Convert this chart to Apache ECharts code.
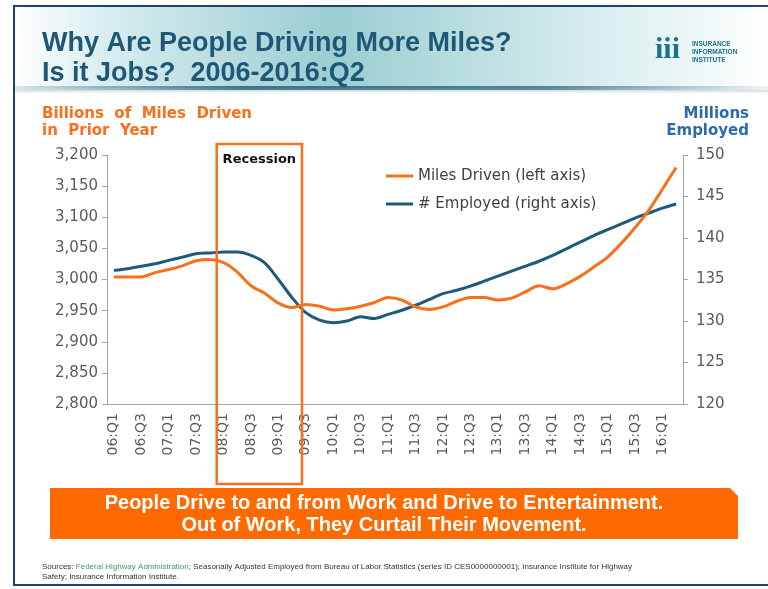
<!DOCTYPE html>
<html><head><meta charset="utf-8">
<script src="https://cdn.jsdelivr.net/npm/echarts@6/dist/echarts.min.js"></script>
<style>html,body{margin:0;padding:0;background:#fff}#c{width:768px;height:589px}</style>
</head><body><div id="c"></div>
<script>
const categories = ['06:Q1','06:Q2','06:Q3','06:Q4','07:Q1','07:Q2','07:Q3','07:Q4','08:Q1','08:Q2','08:Q3','08:Q4',
  '09:Q1','09:Q2','09:Q3','09:Q4','10:Q1','10:Q2','10:Q3','10:Q4','11:Q1','11:Q2','11:Q3','11:Q4',
  '12:Q1','12:Q2','12:Q3','12:Q4','13:Q1','13:Q2','13:Q3','13:Q4','14:Q1','14:Q2','14:Q3','14:Q4',
  '15:Q1','15:Q2','15:Q3','15:Q4','16:Q1','16:Q2'];
const milesDriven = [3004,3004,3004,3011,3016,3022,3030,3032,3027,3012,2990,2978,
  2962,2955,2960,2957,2951,2953,2957,2963,2971,2967,2956,2952,
  2956,2965,2971,2971,2967,2970,2980,2990,2985,2993,3005,3020,
  3036,3058,3083,3111,3145,3180];
const employed = [136.1,136.3,136.6,136.9,137.3,137.7,138.1,138.2,138.3,138.3,137.9,137.0,
  135.0,132.8,131.0,130.1,129.8,130.0,130.5,130.3,130.8,131.3,131.9,132.6,
  133.3,133.7,134.2,134.8,135.4,136.0,136.6,137.2,137.9,138.7,139.5,140.3,
  141.0,141.7,142.4,143.0,143.6,144.1];
const seriesNames = ['Miles Driven (left axis)', '# Employed (right axis)'];
const recessionStart = '08:Q1';
const recessionEnd = '09:Q2';

const ORANGE = '#f7701c';
const BLUE = '#1f5a7c';
const GRAY = '#5a5a5a';
const AXIS = '#a6a6a6';
const FONT = '"DejaVu Sans", Verdana, sans-serif';

const chart = echarts.init(document.getElementById('c'), null, {renderer: 'canvas'});

function decorations(extra) {
  const els = [
    {type: 'rect', shape: {x: 14, y: 6, width: 760, height: 82}, z: 0,
     style: {fill: new echarts.graphic.LinearGradient(0, 0, 1, 0, [
       {offset: 0, color: '#ffffff'}, {offset: 0.12, color: '#d8edf0'},
       {offset: 0.42, color: '#9bcdd2'}, {offset: 0.72, color: '#d0e9eb'}, {offset: 1, color: '#ffffff'}])}},
    {type: 'rect', shape: {x: 14, y: 86, width: 760, height: 4}, z: 1,
     style: {fill: new echarts.graphic.LinearGradient(0, 0, 1, 0, [
       {offset: 0, color: 'rgba(40,100,120,0.15)'}, {offset: 0.3, color: 'rgba(40,100,120,0.85)'},
       {offset: 0.7, color: 'rgba(40,100,120,0.75)'}, {offset: 1, color: 'rgba(40,100,120,0.05)'}])}},
    {type: 'rect', shape: {x: 14, y: 90, width: 760, height: 5}, z: 1,
     style: {fill: new echarts.graphic.LinearGradient(0, 0, 0, 1, [
       {offset: 0, color: 'rgba(40,100,120,0.25)'}, {offset: 1, color: 'rgba(255,255,255,0)'}])}},
    {type: 'rect', shape: {x: 14, y: 6, width: 770, height: 579}, z: 50, silent: true,
     style: {fill: 'none', stroke: '#1f3f78', lineWidth: 2}},
    {type: 'text', x: 42, y: 29, z: 5, style: {text: 'Why Are People Driving More Miles?\nIs it Jobs?  2006-2016:Q2',
      font: 'bold 27px "Liberation Sans", Arial, sans-serif', fill: '#1f5776', lineHeight: 30}},
    {type: 'text', x: 655, y: 35, z: 5, style: {text: 'iii', font: 'bold 30px "Liberation Serif", serif', fill: '#1b7094'}},
    {type: 'text', x: 692, y: 40, z: 5, style: {text: 'INSURANCE\nINFORMATION\nINSTITUTE',
      font: 'bold 6.5px "Liberation Sans", Arial, sans-serif', fill: '#1b7094', lineHeight: 8}},
    {type: 'text', x: 42, y: 106, z: 5, style: {text: 'Billions  of  Miles  Driven\nin  Prior  Year',
      font: 'bold 15px ' + FONT, fill: ORANGE, lineHeight: 17}},
    {type: 'text', x: 749, y: 106, z: 5, style: {text: 'Millions\nEmployed', align: 'right',
      font: 'bold 15px ' + FONT, fill: '#2e6aa8', lineHeight: 17}},
    {type: 'polygon', z: 5, shape: {points: [[50, 488], [730, 488], [738, 496], [738, 539], [50, 539]]},
     style: {fill: '#ff6a00'}},
    {type: 'text', x: 384, y: 514, z: 6, style: {text: 'People Drive to and from Work and Drive to Entertainment.\nOut of Work, They Curtail Their Movement.',
      align: 'center', verticalAlign: 'middle', font: 'bold 20px "Liberation Sans", Arial, sans-serif', fill: '#ffffff', lineHeight: 22}},
    {type: 'text', x: 42, y: 562, z: 5, style: {
      text: 'Sources: {g|Federal Highway Administration}; Seasonally Adjusted Employed from Bureau of Labor Statistics (series ID CES0000000001); Insurance Institute for Highway\nSafety; Insurance Information Institute.',
      font: '8px "Liberation Sans", Arial, sans-serif', fill: '#333', lineHeight: 10,
      rich: {g: {fill: '#3aa060', font: '8px "Liberation Sans", Arial, sans-serif'}}}}
  ];
  return els.concat(extra || []);
}

const option = {
  animation: false,
  backgroundColor: '#ffffff',
  grid: {left: 107, right: 85, top: 155, bottom: 185},
  legend: {
    orient: 'vertical', left: 381, top: 163, itemWidth: 27, itemHeight: 3, icon: 'rect', itemGap: 12,
    textStyle: {color: '#404040', fontSize: 15, fontFamily: FONT, lineHeight: 16},
    data: seriesNames
  },
  xAxis: {
    type: 'category', data: categories, boundaryGap: true,
    axisLine: {lineStyle: {color: AXIS, width: 1}},
    axisTick: {interval: 0, length: 5, lineStyle: {color: AXIS}},
    axisLabel: {interval: 1, rotate: 90, margin: 9, color: GRAY, fontSize: 14, fontFamily: FONT}
  },
  yAxis: [
    {type: 'value', min: 2800, max: 3200, interval: 50, position: 'left',
     axisLine: {show: true, lineStyle: {color: AXIS}}, axisTick: {show: true, length: 5, lineStyle: {color: AXIS}},
     splitLine: {show: false},
     axisLabel: {margin: 9, color: GRAY, fontSize: 15, fontFamily: FONT,
       formatter: v => String(v).replace(/\B(?=(\d{3})+(?!\d))/g, ',')}},
    {type: 'value', min: 120, max: 150, interval: 5, position: 'right',
     axisLine: {show: true, lineStyle: {color: AXIS}}, axisTick: {show: true, length: 5, lineStyle: {color: AXIS}},
     splitLine: {show: false},
     axisLabel: {margin: 13, color: GRAY, fontSize: 15, fontFamily: FONT}}
  ],
  series: [
    {name: seriesNames[0], type: 'line', yAxisIndex: 0, data: milesDriven, smooth: 0.3, showSymbol: false,
     lineStyle: {color: ORANGE, width: 3}, itemStyle: {color: ORANGE}, z: 3},
    {name: seriesNames[1], type: 'line', yAxisIndex: 1, data: employed, smooth: 0.3, showSymbol: false,
     lineStyle: {color: BLUE, width: 3}, itemStyle: {color: BLUE}, z: 2}
  ],
  graphic: {elements: decorations()}
};
chart.setOption(option);

const i0 = categories.indexOf(recessionStart), i1 = categories.indexOf(recessionEnd);
const x0 = chart.convertToPixel({xAxisIndex: 0}, i0);
const x1 = chart.convertToPixel({xAxisIndex: 0}, i1);
const band = (x1 - x0) / (i1 - i0);
const bl = x0 - band / 2, br = x1 + band / 2 + 3;
chart.setOption({graphic: {elements: decorations([
  {type: 'rect', z: 40, shape: {x: bl, y: 144, width: br - bl, height: 340},
   style: {fill: 'none', stroke: ORANGE, lineWidth: 2.5}},
  {type: 'text', z: 41, x: (bl + br) / 2, y: 160, style: {text: 'Recession', align: 'center', verticalAlign: 'middle',
   font: 'bold 13px ' + FONT, fill: '#111'}}
])}}, {replaceMerge: ['graphic']});
</script></body></html>
